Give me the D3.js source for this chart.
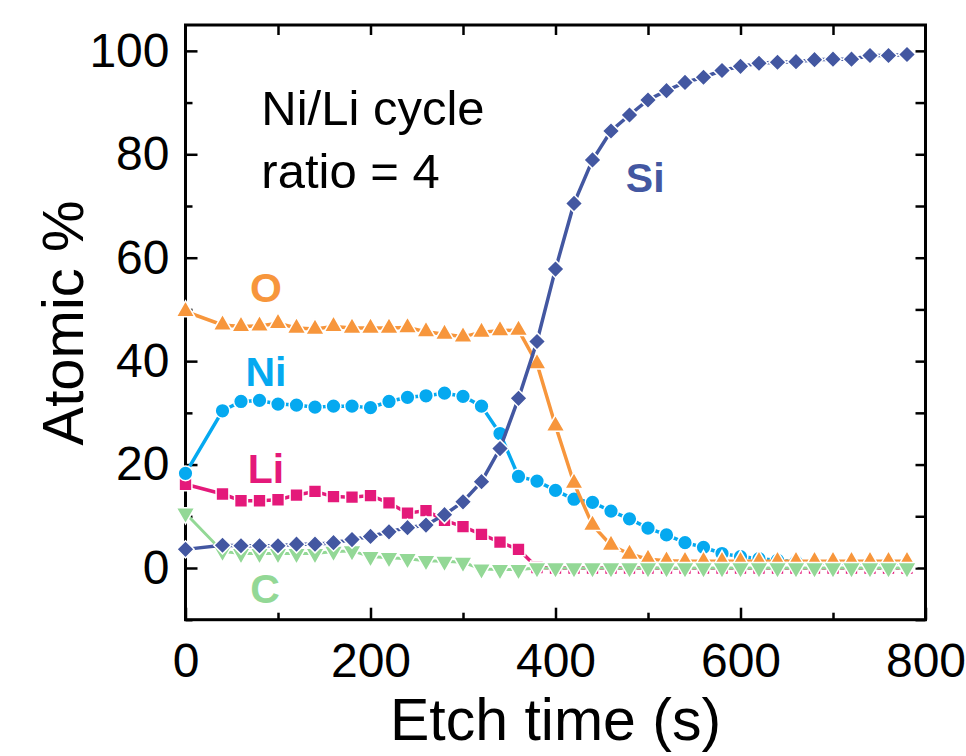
<!DOCTYPE html>
<html>
<head>
<meta charset="utf-8">
<script src="https://cdn.jsdelivr.net/npm/d3@7"></script>
<style>
  body { margin: 0; background: #fff; }
  svg { display: block; font-family: "Liberation Sans", Arial, Helvetica, sans-serif; }
</style>
</head>
<body>
<svg id="chart"></svg>
<script>
// etch time (s): 0, then every 20 s from 40 to 780
var times = [0, 40, 60, 80, 100, 120, 140, 160, 180, 200, 220, 240, 260, 280, 300, 320, 340, 360, 380,
  400, 420, 440, 460, 480, 500, 520, 540, 560, 580, 600, 620, 640, 660, 680, 700, 720, 740, 760, 780];

var siValues = [3.6, 4.4, 4.3, 4.3, 4.3, 4.6, 4.6, 4.9, 5.5, 6.1, 7.0, 7.8, 8.3, 10.3, 12.8, 16.7, 23.1, 32.8, 43.8,
  57.8, 70.5, 78.9, 84.5, 87.6, 90.5, 92.3, 93.9, 94.9, 96.2, 97.0, 97.6, 97.8, 97.9, 98.3, 98.4, 98.4, 99.1, 99.1, 99.3];

var oValues = [49.6, 47.0, 46.7, 46.8, 47.3, 46.4, 46.2, 46.7, 46.4, 46.4, 46.4, 46.5, 45.7, 45.2, 44.7, 45.6, 45.9, 46.0, 39.5,
  27.5, 16.4, 8.3, 4.4, 2.7, 1.7, 1.4, 1.3, 1.3, 1.3, 1.3, 1.3, 1.3, 1.3, 1.3, 1.3, 1.3, 1.3, 1.3, 1.3];

var niValues = [18.3, 30.4, 32.2, 32.4, 31.7, 31.5, 31.1, 31.3, 31.3, 31.0, 32.2, 33.0, 33.3, 33.8, 33.2, 31.3, 26.0, 17.7, 16.8,
  15.0, 13.3, 12.7, 11.0, 9.5, 7.7, 6.4, 4.9, 4.0, 2.8, 2.2, 1.8, 1.5, 1.2, 0.9, 0.8, 0.6, 0.5, 0.5, 0.4];

var liValues = [16.2, 14.3, 13.0, 13.0, 13.2, 14.1, 14.8, 13.8, 13.7, 14.0, 12.6, 10.6, 11.1, 9.2, 8.0, 6.5, 5.0, 3.6, 0.1,
  0, 0, 0, 0, 0, 0, 0, 0, 0, 0, 0, 0, 0, 0, 0, 0, 0, 0, 0, 0];

var cValues = [10.6, 3.2, 2.8, 2.8, 2.8, 2.8, 2.8, 3.2, 3.3, 2.2, 2.0, 1.8, 1.4, 1.3, 1.1, -0.2, -0.3, -0.3, 0,
  0, 0, 0, 0, 0, 0, 0, 0, 0, 0, 0, 0, 0, 0, 0, 0, 0, 0, 0, 0];

var xTicks = [0, 200, 400, 600, 800];
var yTicks = [0, 20, 40, 60, 80, 100];

// drawn bottom to top
var series = [
  { name: "Li", values: liValues, color: "#e4197a", shape: "square" },
  { name: "Ni", values: niValues, color: "#05a9f0", shape: "circle" },
  { name: "O", values: oValues, color: "#f7963c", shape: "up" },
  { name: "C", values: cValues, color: "#93d896", shape: "down" },
  { name: "Si", values: siValues, color: "#4357a1", shape: "diamond" }
];

// label anchor points, in data units
var labels = [
  { name: "O", x: 87, y: 51.4, color: "#f7963c" },
  { name: "Ni", x: 87, y: 35.1, color: "#05a9f0" },
  { name: "Li", x: 87, y: 16.5, color: "#e4197a" },
  { name: "C", x: 86, y: -6.8, color: "#93d896" },
  { name: "Si", x: 497, y: 72.8, color: "#4357a1" }
];

var width = 966, height = 756;
var plot = { left: 185.5, right: 925.5, top: 25, bottom: 619.7 };

var svg = d3.select("#chart")
  .attr("width", width)
  .attr("height", height);

var x = d3.scaleLinear().domain([0, 800]).range([plot.left, plot.right]);
var y = d3.scaleLinear().domain([-10, 105]).range([plot.bottom, plot.top]);

// axes, ticks pointing inward
svg.append("g")
  .attr("transform", "translate(0," + plot.bottom + ")")
  .call(d3.axisBottom(x).tickValues(d3.range(100, 800, 200)).tickSize(-7).tickFormat(""));
svg.append("g")
  .attr("class", "xaxis")
  .attr("transform", "translate(0," + plot.bottom + ")")
  .call(d3.axisBottom(x).tickValues(xTicks).tickSize(-12).tickPadding(23).tickFormat(d3.format("d")));

svg.append("g")
  .attr("transform", "translate(" + plot.left + ",0)")
  .call(d3.axisLeft(y).tickValues(d3.range(-10, 105, 20)).tickSize(-7).tickFormat(""));
svg.append("g")
  .attr("class", "yaxis")
  .attr("transform", "translate(" + plot.left + ",0)")
  .call(d3.axisLeft(y).tickValues(yTicks).tickSize(-12).tickPadding(16).tickFormat(d3.format("d")));

svg.append("g")
  .attr("transform", "translate(0," + plot.top + ")")
  .call(d3.axisTop(x).tickValues(d3.range(100, 800, 100)).tickSize(-10).tickFormat(""));
svg.append("g")
  .attr("transform", "translate(" + plot.right + ",0)")
  .call(d3.axisRight(y).tickValues(d3.range(-10, 105, 10)).tickSize(-10).tickFormat(""));

svg.selectAll(".domain").remove();
svg.selectAll(".tick line").attr("stroke", "#000").attr("stroke-width", 2.5);
svg.selectAll(".xaxis text, .yaxis text")
  .attr("fill", "#000")
  .style("font-family", "'Liberation Sans', Arial, sans-serif")
  .style("font-size", "48px");

svg.append("rect")
  .attr("x", plot.left)
  .attr("y", plot.top)
  .attr("width", plot.right - plot.left)
  .attr("height", plot.bottom - plot.top)
  .attr("fill", "none")
  .attr("stroke", "#000")
  .attr("stroke-width", 3);

// series
var line = d3.line()
  .x(function(d) { return x(d[0]); })
  .y(function(d) { return y(d[1]); });

var symbols = {
  square: { type: d3.symbolSquare, size: 165, rotate: 0 },
  circle: { type: d3.symbolCircle, size: 170, rotate: 0 },
  up: { type: d3.symbolTriangle, size: 150, rotate: 0 },
  down: { type: d3.symbolTriangle, size: 150, rotate: 180 },
  diamond: { type: d3.symbolSquare, size: 150, rotate: 45 }
};

series.forEach(function(s) {
  var pts = times.map(function(t, i) { return [t, s.values[i]]; });
  var g = svg.append("g");
  g.append("path")
    .datum(pts)
    .attr("d", line)
    .attr("fill", "none")
    .attr("stroke", s.color)
    .attr("stroke-width", s.name == "C" ? 3 : 3.5);

  var sym = symbols[s.shape];
  g.selectAll("path.pt")
    .data(pts)
    .enter()
    .append("path")
    .attr("class", "pt")
    .attr("d", d3.symbol().type(sym.type).size(sym.size))
    .attr("transform", function(d) {
      return "translate(" + x(d[0]) + "," + y(d[1]) + ") rotate(" + sym.rotate + ")";
    })
    .attr("fill", s.color)
    .attr("stroke", "#fff")
    .attr("stroke-width", 1.5);
});

// element labels
svg.selectAll("text.label")
  .data(labels)
  .enter()
  .append("text")
  .attr("class", "label")
  .attr("x", function(d) { return x(d.x); })
  .attr("y", function(d) { return y(d.y); })
  .attr("text-anchor", "middle")
  .attr("fill", function(d) { return d.color; })
  .style("font-size", "41px")
  .style("font-weight", "bold")
  .text(function(d) { return d.name; });

// inset note
svg.append("text")
  .attr("x", x(82))
  .attr("y", 125)
  .style("font-size", "49px")
  .text("Ni/Li cycle");
svg.append("text")
  .attr("x", x(82))
  .attr("y", 188)
  .style("font-size", "49px")
  .text("ratio = 4");

// axis titles
svg.append("text")
  .attr("x", (plot.left + plot.right) / 2)
  .attr("y", 740)
  .attr("text-anchor", "middle")
  .style("font-size", "59px")
  .text("Etch time (s)");

svg.append("text")
  .attr("transform", "translate(83," + 323 + ") rotate(-90)")
  .attr("text-anchor", "middle")
  .style("font-size", "58px")
  .text("Atomic %");
</script>
</body>
</html>
